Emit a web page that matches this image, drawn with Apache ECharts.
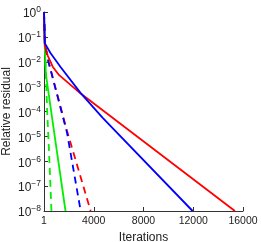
<!DOCTYPE html>
<html><head><meta charset="utf-8">
<script src="https://cdn.jsdelivr.net/npm/echarts@6/dist/echarts.min.js"></script>
<style>html,body{margin:0;padding:0;background:#fff}#c{width:261px;height:242px}</style>
</head><body><div id="c"></div>
<script>
// Data (iteration, log10 of relative residual)
const blueSolidX = [1, 60, 520, 1330, 2950, 4720, 11950];
const blueSolidY = [0, -1.25, -1.65, -2.21, -3.26, -4.26, -8];
const redSolidX = [1, 60, 300, 700, 1200, 2950, 15350];
const redSolidY = [0, -1.35, -1.75, -2.2, -2.53, -3.28, -8];
const greenSolidX = [1, 60, 150, 950, 1730];
const greenSolidY = [0, -1.25, -2.5, -5.3, -8];
const blueDashX = [1, 80, 360, 1850, 2950];
const blueDashY = [0, -1.3, -2.0, -4.85, -8];
const redDashX = [1, 80, 360, 1850, 3750];
const redDashY = [0, -1.3, -2.0, -4.78, -8];
const greenDashX = [1, 60, 250, 420, 600];
const greenDashY = [0, -1.25, -3.9, -5.8, -8];
const xTickLabels = ['1', '4000', '8000', '12000', '16000'];

function pts(xs, ys){ return xs.map((x,i)=>[x, Math.pow(10, ys[i])]); }
const sup = {b:{fontSize:12,color:'#222',fontFamily:'Liberation Sans'},e:{fontSize:8.5,color:'#222',fontFamily:'Liberation Sans',padding:[0,0,8,0]}};
const chart = echarts.init(document.getElementById('c'), null, {renderer:'canvas'});
const mk = (name, xs, ys, color, dashed, z) => ({
  type:'line', name, data: pts(xs, ys), symbol:'none', z,
  lineStyle:{color, width:1.8, type: dashed ? [7,5] : 'solid'}, animation:false
});
chart.setOption({
  animation:false,
  grid:{left:44, right:18, top:12, bottom:31, containLabel:false, outerBoundsMode:'none'},
  xAxis:{type:'value', min:0, max:16000, interval:4000,
    axisLine:{show:true, lineStyle:{color:'#333'}},
    axisTick:{show:true, inside:true, length:4, lineStyle:{color:'#333'}},
    splitLine:{show:false},
    axisLabel:{margin:5, fontSize:10.5, color:'#222', fontFamily:'Liberation Sans',
      formatter:v => xTickLabels[Math.round(v/4000)]},
    name:'Iterations', nameLocation:'middle', nameGap:21, nameMoveOverlap:false,
    nameTextStyle:{fontSize:12, color:'#222', fontFamily:'Liberation Sans'}},
  yAxis:{type:'log', logBase:10, min:1e-8, max:1,
    axisLine:{show:true, lineStyle:{color:'#333'}},
    axisTick:{show:true, inside:true, length:4, lineStyle:{color:'#333'}},
    splitLine:{show:false},
    axisLabel:{margin:3, rich:sup, padding:[4,0,0,0],
      formatter:v => { const e = Math.round(Math.log10(v)); return '{b|10}{e|' + (e<0 ? '\u2212'+(-e) : e) + '}'; }},
    name:'Relative residual', nameLocation:'middle', nameGap:31, nameRotate:90, nameMoveOverlap:false,
    nameTextStyle:{fontSize:12, color:'#222', fontFamily:'Liberation Sans'}},
  series:[
    mk('green dashed', greenDashX, greenDashY, '#00ee00', true, 2),
    mk('green solid', greenSolidX, greenSolidY, '#00ee00', false, 2),
    mk('red dashed', redDashX, redDashY, '#ff0000', true, 3),
    mk('blue dashed', blueDashX, blueDashY, '#0000ff', true, 3),
    mk('red solid', redSolidX, redSolidY, '#ff0000', false, 4),
    mk('blue solid', blueSolidX, blueSolidY, '#0000ff', false, 5)
  ]
});
</script></body></html>
